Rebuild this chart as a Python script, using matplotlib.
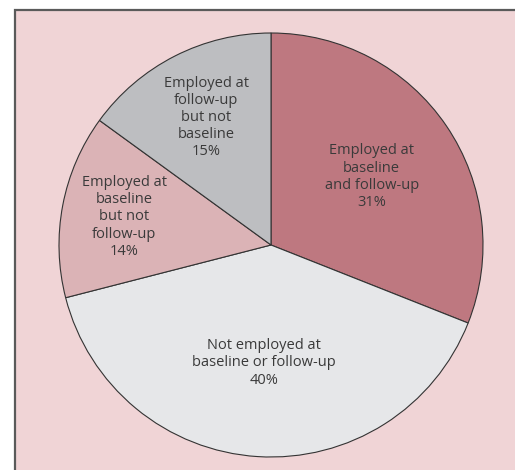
import numpy as np
import matplotlib.pyplot as plt
from matplotlib.patches import Rectangle

# Share of participants by employment status
labels = ['Employed at\nbaseline\nand follow-up',
          'Not employed at\nbaseline or follow-up',
          'Employed at\nbaseline\nbut not\nfollow-up',
          'Employed at\nfollow-up\nbut not\nbaseline']
shares = [31, 40, 14, 15]
colors = ['#be7880', '#e6e7e9', '#dbb3b6', '#bdbec1']
label_radius = [0.574, 0.557, 0.705, 0.675]

W, H, DPI = 515, 470, 100
cx, cy, R = 271, 245, 212  # pie centre and radius in pixels

fig = plt.figure(figsize=(W / DPI, H / DPI), dpi=DPI, facecolor='white')

# framed pink panel
fig.patches.append(Rectangle((15 / W, -0.1), 1.2, 1 - 10 / H + 0.1,
                             transform=fig.transFigure, facecolor='#f0d4d6',
                             edgecolor='#5a5a5a', linewidth=1.6, zorder=-1))

ax = fig.add_axes([0, 0, 1, 1])

wedges, _ = ax.pie(shares, colors=colors, startangle=90, counterclock=False,
                   radius=1, center=(0, 0),
                   wedgeprops=dict(edgecolor='#333333', linewidth=0.8))

# pie() resets limits, so fix them afterwards
ax.set_xlim(-cx / R, (W - cx) / R)
ax.set_ylim(-(H - cy) / R, cy / R)
ax.set_aspect('equal')
ax.axis('off')

for w, lab, s, r in zip(wedges, labels, shares, label_radius):
    mid = np.deg2rad((w.theta1 + w.theta2) / 2)
    ax.text(r * np.cos(mid), r * np.sin(mid), f'{lab}\n{s}%',
            ha='center', va='center', fontsize=10.5, family='Open Sans',
            color='#3a3a3a', linespacing=1.2)

fig.savefig('out.png', dpi=DPI, facecolor='white')
